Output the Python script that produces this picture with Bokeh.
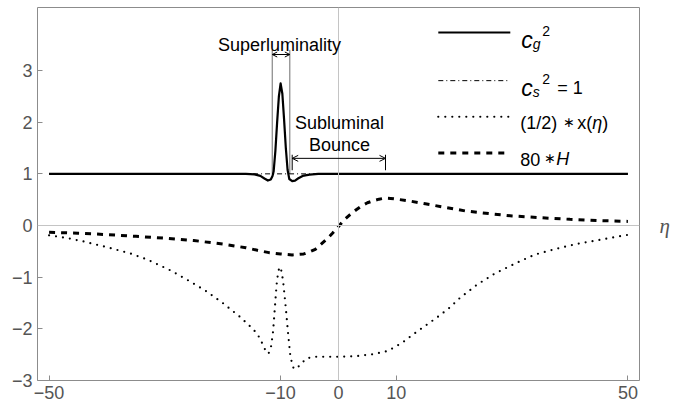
from bokeh.plotting import figure
from bokeh.models import Range1d, FixedTicker, Span, Label, Arrow, OpenHead, LinearAxis
from bokeh.embed import file_html
from bokeh.resources import INLINE

# ---------------- data ----------------
eta_cg = [-50, -16, -14.5, -13.5, -12.8, -12.2, -11.7, -11.4, -11.2, -10.9, -10.6,
          -10.3, -10.0, -9.7, -9.4, -9.1, -8.8, -8.5, -8.0, -7.5, -7.0, -6.2, -5.0,
          -3.5, 50]
cg2 = [1.0, 1.0, 0.99, 0.96, 0.91, 0.87, 0.89, 0.96, 1.05, 1.45, 2.0,
       2.5, 2.75, 2.55, 2.05, 1.5, 1.08, 0.9, 0.86, 0.87, 0.91, 0.96, 0.985,
       1.0, 1.0]

eta_cs = [-50, 50]
cs2 = [1.0, 1.0]

eta_x = [-50, -47, -44, -40, -36, -33, -29, -26, -23, -20, -17, -15, -14, -13,
         -12.5, -12.1, -11.7, -11.3, -11.0, -10.7, -10.4, -10.1, -9.8, -9.5,
         -9.1, -8.7, -8.3, -7.8, -7.3, -6.6, -5.5, -4, 0, 3, 6, 8.5, 11, 13,
         15, 17, 19, 21, 24, 27, 31, 34, 38, 41, 45, 50]
half_x = [-0.19, -0.24, -0.31, -0.42, -0.54, -0.66, -0.87, -1.06, -1.26, -1.50,
          -1.77, -1.98, -2.10, -2.32, -2.45, -2.48, -2.38, -2.05, -1.60, -1.15,
          -0.88, -0.80, -0.90, -1.15, -1.60, -2.10, -2.55, -2.75, -2.78, -2.69,
          -2.57, -2.54, -2.54, -2.53, -2.49, -2.43, -2.27, -2.10, -1.94, -1.78,
          -1.61, -1.40, -1.14, -0.93, -0.71, -0.56, -0.44, -0.36, -0.28, -0.18]

eta_h = [-50, -45, -40, -35, -30, -25, -20, -16, -14, -12, -10, -8, -6, -5, -4,
         -3, -2, -1, 0, 1, 2, 3, 4, 5, 6, 7, 8, 9, 10, 12, 15, 18, 22, 26, 30,
         35, 40, 45, 50]
h80 = [-0.13, -0.15, -0.175, -0.21, -0.245, -0.29, -0.36, -0.43, -0.48, -0.525,
       -0.55, -0.57, -0.55, -0.51, -0.46, -0.36, -0.26, -0.145, -0.02, 0.11,
       0.21, 0.30, 0.38, 0.44, 0.48, 0.51, 0.53, 0.525, 0.51, 0.48, 0.42, 0.36,
       0.28, 0.23, 0.185, 0.15, 0.12, 0.095, 0.08]

x_ticks = [-50, -10, 0, 10, 50]
x_tick_labels = ["\u221250", "\u221210", "0", "10", "50"]
y_ticks = [-3, -2, -1, 0, 1, 2, 3]
y_tick_labels = ["\u22123", "\u22122", "\u22121", "0", "1", "2", "3"]
axis_name = "\u03b7"

# ---------------- figure ----------------
SANS = "Liberation Sans"
p = figure(width=676, height=410, x_range=Range1d(-52, 52), y_range=Range1d(-3, 4.22),
           output_backend="svg", toolbar_location=None,
           min_border_left=37, min_border_right=37, min_border_top=7, min_border_bottom=30)
p.background_fill_color = "white"
p.border_fill_color = "white"
p.outline_line_color = "#8c8c8c"
p.outline_line_width = 1
p.grid.visible = False

for ax, ticks, labels in ((p.xaxis, x_ticks, x_tick_labels), (p.yaxis, y_ticks, y_tick_labels)):
    ax.ticker = FixedTicker(ticks=ticks)
    ax.major_label_overrides = {t: l for t, l in zip(ticks, labels)}
    ax.axis_line_color = None
    ax.major_tick_in = 5
    ax.major_tick_out = 0
    ax.minor_tick_line_color = None
    ax.major_tick_line_color = "#8c8c8c"
    ax.major_label_text_font = SANS
    ax.major_label_text_font_size = "18px"
    ax.major_label_text_color = "#555555"
p.xaxis.major_label_standoff = 5
p.yaxis.major_label_standoff = 5

# axis name "η" at the right end of the horizontal axis
name_axis = LinearAxis(ticker=FixedTicker(ticks=[0]),
                       major_label_overrides={0: axis_name},
                       axis_line_color=None, major_tick_line_color=None,
                       minor_tick_line_color=None, major_label_standoff=14,
                       major_label_text_font="Liberation Serif",
                       major_label_text_font_style="italic",
                       major_label_text_font_size="21px",
                       major_label_text_color="#555555")
p.add_layout(name_axis, "right")

# zero axes
p.add_layout(Span(location=0, dimension="width", line_color="#c4c4c4", line_width=1))
p.add_layout(Span(location=0, dimension="height", line_color="#c4c4c4", line_width=1))

# annotation guide lines (superluminality)
p.segment(x0=[-11.45, -8.41], y0=[1.0, 1.0], x1=[-11.45, -8.41], y1=[3.40, 3.40],
          line_color="#6e6e6e", line_width=1)

# curves
p.line(eta_cs, cs2, line_color="black", line_width=1, line_dash="5 3 1 3")
p.line(eta_cg, cg2, line_color="black", line_width=2.2, line_join="round")
p.line(eta_x, half_x, line_color="black", line_width=2.2, line_dash="0 7", line_cap="round")
p.line(eta_h, h80, line_color="black", line_width=3, line_dash="6 6")

# arrows
p.add_layout(Arrow(x_start=-11.45, y_start=3.31, x_end=-8.41, y_end=3.31,
                   start=OpenHead(size=5, line_width=1), end=OpenHead(size=5, line_width=1),
                   line_width=1, line_color="black"))
p.add_layout(Arrow(x_start=-8.0, y_start=1.30, x_end=8.12, y_end=1.30,
                   start=OpenHead(size=6, line_width=1), end=OpenHead(size=6, line_width=1),
                   line_width=1, line_color="black"))
p.segment(x0=[-8.0, 8.12], y0=[1.07, 1.07], x1=[-8.0, 8.12], y1=[1.37, 1.37],
          line_color="black", line_width=1)

def lab(x, y, text, size="18px", style="normal", align="left", xo=0, yo=0,
        font=SANS, color="black", baseline="alphabetic"):
    p.add_layout(Label(x=x, y=y, x_offset=xo, y_offset=yo, text=text,
                       text_font=font, text_font_size=size,
                       text_font_style=style, text_align=align,
                       text_baseline=baseline, text_color=color))

lab(-10.19, 3.50, "Superluminality", align="center")
lab(0.18, 1.99, "Subluminal", align="center")
lab(0.18, 1.56, "Bounce", align="center")

# ---------------- legend (drawn by hand) ----------------
LX0, LX1, LT = 17.24, 29.68, 31.4
rows = [3.736, 2.804, 2.105, 1.406]
p.line([LX0, LX1], [rows[0]] * 2, line_color="black", line_width=2.2)
p.line([LX0, LX1], [rows[1]] * 2, line_color="black", line_width=1, line_dash="5 3 1 3")
p.line([LX0, LX1], [rows[2]] * 2, line_color="black", line_width=2.2, line_dash="0 7", line_cap="round")
p.line([LX0, LX1], [rows[3]] * 2, line_color="black", line_width=3, line_dash="6 6")

# c_g^2
lab(LT, rows[0], "c", size="23px", style="italic", xo=1, yo=-7.5)
lab(LT, rows[0], "g", size="14px", style="italic", xo=12.5, yo=-11.5)
lab(LT, rows[0], "2", size="14px", xo=22, yo=1.5)
# c_s^2 = 1
lab(LT, rows[1], "c", size="23px", style="italic", xo=1, yo=-7.5)
lab(LT, rows[1], "s", size="14px", style="italic", xo=12.5, yo=-11.5)
lab(LT, rows[1], "2", size="14px", xo=22, yo=1.5)
lab(LT, rows[1], "= 1", xo=37, yo=-7)
# (1/2) * x(eta)
lab(LT, rows[2], "(1/2)", xo=0, yo=-6.5)
lab(LT, rows[2], "\u2217", size="14px", xo=43, yo=-5)
lab(LT, rows[2], "x(", xo=57, yo=-6.5)
lab(LT, rows[2], "\u03b7", style="italic", xo=72, yo=-6.5)
lab(LT, rows[2], ")", xo=82, yo=-6.5)
# 80 * H
lab(LT, rows[3], "80", xo=0, yo=-6.5)
lab(LT, rows[3], "\u2217", size="14px", xo=24, yo=-5)
lab(LT, rows[3], "H", style="italic", xo=36, yo=-6.5)

open("out.html", "w").write(file_html(p, INLINE))
